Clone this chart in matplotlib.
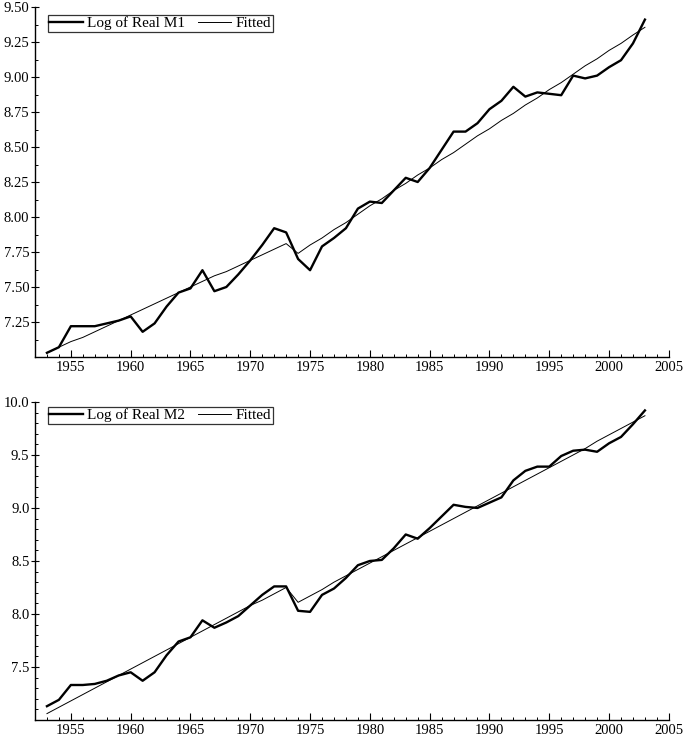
import numpy as np
import matplotlib
matplotlib.use('Agg')
import matplotlib.pyplot as plt
from matplotlib.ticker import MultipleLocator

plt.rcParams['font.family'] = ['Liberation Serif', 'DejaVu Serif']

years = list(range(1953, 2004))

log_real_m1 = [7.03, 7.07, 7.22, 7.22, 7.22, 7.24, 7.26, 7.29, 7.18, 7.24,
               7.36, 7.46, 7.49, 7.62, 7.47, 7.50, 7.59, 7.69, 7.80, 7.92,
               7.89, 7.70, 7.62, 7.79, 7.85, 7.92, 8.06, 8.11, 8.10, 8.19,
               8.28, 8.25, 8.35, 8.48, 8.61, 8.61, 8.67, 8.77, 8.83, 8.93,
               8.86, 8.89, 8.88, 8.87, 9.01, 8.99, 9.01, 9.07, 9.12, 9.24,
               9.41]
fitted_m1 = [7.03, 7.07, 7.11, 7.14, 7.18, 7.22, 7.26, 7.30, 7.34, 7.38,
             7.42, 7.46, 7.50, 7.54, 7.58, 7.61, 7.65, 7.69, 7.73, 7.77,
             7.81, 7.74, 7.80, 7.85, 7.91, 7.96, 8.02, 8.08, 8.13, 8.19,
             8.24, 8.30, 8.35, 8.41, 8.46, 8.52, 8.58, 8.63, 8.69, 8.74,
             8.80, 8.85, 8.91, 8.96, 9.02, 9.08, 9.13, 9.19, 9.24, 9.30,
             9.355]

log_real_m2 = [7.13, 7.19, 7.33, 7.33, 7.34, 7.37, 7.42, 7.45, 7.37, 7.45,
               7.61, 7.74, 7.78, 7.94, 7.87, 7.92, 7.98, 8.08, 8.18, 8.26,
               8.26, 8.03, 8.02, 8.18, 8.24, 8.34, 8.46, 8.50, 8.51, 8.62,
               8.75, 8.71, 8.81, 8.92, 9.03, 9.01, 9.00, 9.05, 9.10, 9.26,
               9.35, 9.39, 9.39, 9.49, 9.54, 9.55, 9.53, 9.61, 9.67, 9.79,
               9.92]
fitted_m2 = [7.06, 7.12, 7.18, 7.24, 7.30, 7.36, 7.42, 7.48, 7.54, 7.60,
             7.66, 7.72, 7.78, 7.84, 7.90, 7.96, 8.02, 8.08, 8.13, 8.19,
             8.25, 8.11, 8.17, 8.23, 8.30, 8.36, 8.42, 8.48, 8.54, 8.60,
             8.66, 8.72, 8.78, 8.84, 8.90, 8.96, 9.02, 9.08, 9.14, 9.20,
             9.26, 9.32, 9.38, 9.44, 9.50, 9.56, 9.63, 9.69, 9.75, 9.81,
             9.87]

x_ticks = [1955, 1960, 1965, 1970, 1975, 1980, 1985, 1990, 1995, 2000, 2005]
m1_ticks = [7.25, 7.50, 7.75, 8.00, 8.25, 8.50, 8.75, 9.00, 9.25, 9.50]
m2_ticks = [7.5, 8.0, 8.5, 9.0, 9.5, 10.0]


def draw_panel(ax, actual, fitted, label, yticks, ylim, yminor, yfmt, legend_top):
    ax.plot(years, actual, color='black', linewidth=1.7, label=label)
    ax.plot(years, fitted, color='black', linewidth=0.7, label='Fitted')

    ax.set_xlim(1952, 2005)
    ax.set_ylim(*ylim)
    ax.set_xticks(x_ticks)
    ax.xaxis.set_minor_locator(MultipleLocator(1))
    ax.set_yticks(yticks)
    ax.set_yticklabels([yfmt.format(v) for v in yticks])
    ax.yaxis.set_minor_locator(MultipleLocator(yminor))

    ax.spines['top'].set_visible(False)
    ax.spines['right'].set_visible(False)
    ax.spines['left'].set_linewidth(1.0)
    ax.spines['bottom'].set_linewidth(1.0)

    ax.tick_params(axis='x', which='major', direction='in', length=5, width=0.8, labelsize=10.5, pad=3)
    ax.tick_params(axis='x', which='minor', direction='in', length=2.5, width=0.7)
    ax.tick_params(axis='y', which='major', direction='inout', length=6, width=0.8, labelsize=10.5, pad=1)
    ax.tick_params(axis='y', which='minor', direction='in', length=2.5, width=0.7)

    leg = ax.legend(loc='upper left', bbox_to_anchor=(0.02, legend_top), ncol=2,
                    fontsize=11, frameon=True, fancybox=False, borderpad=0.1,
                    handlelength=2.2, handletextpad=0.3, columnspacing=0.8,
                    borderaxespad=0)
    leg.get_frame().set_edgecolor('black')
    leg.get_frame().set_linewidth(0.9)


fig = plt.figure(figsize=(6.86, 7.37), dpi=100)

ax1 = fig.add_axes([0.051, 0.5156, 0.924, 0.4749])
draw_panel(ax1, log_real_m1, fitted_m1, 'Log of Real M1', m1_ticks,
           (7.0, 9.5), 0.125, '{:.2f}', 0.977)

ax2 = fig.add_axes([0.051, 0.0231, 0.924, 0.4315])
draw_panel(ax2, log_real_m2, fitted_m2, 'Log of Real M2', m2_ticks,
           (7.0, 10.0), 0.1, '{:.1f}', 0.985)

plt.savefig('out.png', dpi=100)
plt.close()
